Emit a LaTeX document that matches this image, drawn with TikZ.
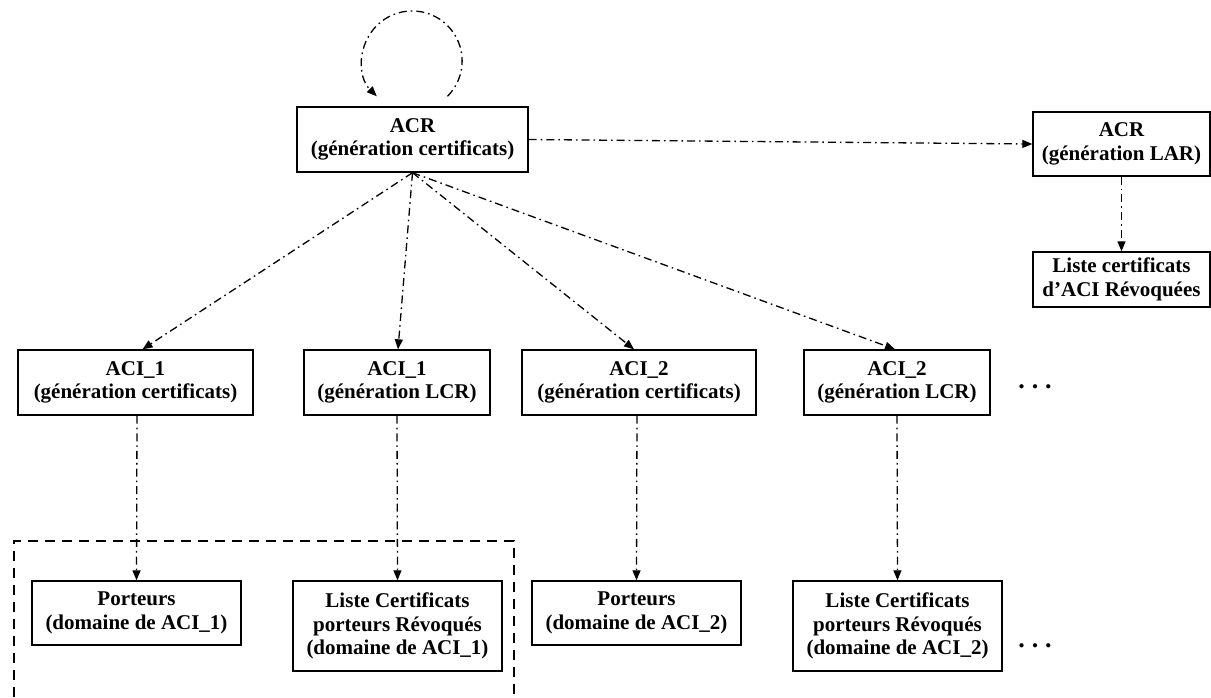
\documentclass[tikz,border=0pt]{standalone}
\usepackage{fontspec}
\setmainfont{Liberation Serif}
\usetikzlibrary{arrows.meta}
\begin{document}
\begin{tikzpicture}[x=1pt,y=-1pt,
  box/.style={draw,line width=1.4pt,inner sep=0pt,align=center,
    font=\fontsize{21}{23.5}\selectfont\bfseries},
  flow/.style={line width=1.3pt,dash pattern=on 8pt off 4pt on 1.6pt off 4pt,
    -{Triangle[length=10pt,width=8pt]}},
  group/.style={line width=2.5pt,dash pattern=on 10pt off 7pt},
  more/.style={anchor=base,inner sep=0pt,font=\fontsize{26}{26}\selectfont\bfseries}]
\useasboundingbox (0,0) rectangle (1211,697);

% root authority
\node[box,minimum width=231pt,minimum height=65pt] (acr) at (412.5,139.5)
  {ACR\\(génération certificats)};
\node[box,minimum width=177pt,minimum height=64pt] (lar) at (1121.5,144)
  {ACR\\(génération LAR)};
\node[box,minimum width=177pt,minimum height=55pt] (lacir) at (1121.5,279.5)
  {Liste certificats\\d’ACI Révoquées};

% intermediate authorities
\node[box,minimum width=235pt,minimum height=65pt] (gen1) at (135.5,382.5)
  {ACI\_1\\(génération certificats)};
\node[box,minimum width=186pt,minimum height=65pt] (lcr1) at (397,382.5)
  {ACI\_1\\(génération LCR)};
\node[box,minimum width=234pt,minimum height=65pt] (gen2) at (639,382.5)
  {ACI\_2\\(génération certificats)};
\node[box,minimum width=186pt,minimum height=65pt] (lcr2) at (897,382.5)
  {ACI\_2\\(génération LCR)};
\node[more] (more1) at (1035,388) {.\hspace{7pt}.\hspace{7pt}.};

% end entities and revocation lists
\node[box,minimum width=209pt,minimum height=64pt] (hold1) at (136.5,613)
  {Porteurs\\(domaine de ACI\_1)};
\node[box,minimum width=209pt,minimum height=90pt] (crl1) at (397.5,626)
  {Liste Certificats\\porteurs Révoqués\\(domaine de ACI\_1)};
\node[box,minimum width=209pt,minimum height=64pt] (hold2) at (636.5,613)
  {Porteurs\\(domaine de ACI\_2)};
\node[box,minimum width=209pt,minimum height=90pt] (crl2) at (897.5,626)
  {Liste Certificats\\porteurs Révoqués\\(domaine de ACI\_2)};
\node[more] (more2) at (1035,647) {.\hspace{7pt}.\hspace{7pt}.};

% domain of ACI_1
\draw[group] (14,697) -- (14,541) -- (514,541) -- (514,697);

% self-signed loop
\draw[flow] ([xshift=35pt,yshift=10pt]acr.north)
  arc[start angle=45,end angle=-225,radius=50];

% connectors
\draw[flow] (acr.east) -- (lar.west);
\draw[flow] (lar.south) -- (lacir.north);
\draw[flow] (acr.south) -- ([xshift=7pt]gen1.north);
\draw[flow] (acr.south) -- ([xshift=1pt]lcr1.north);
\draw[flow] (acr.south) -- ([xshift=-5pt]gen2.north);
\draw[flow] (acr.south) -- ([xshift=-2pt]lcr2.north);
\draw[flow] ([xshift=1.5pt]gen1.south) -- (hold1.north);
\draw[flow] (lcr1.south) -- (crl1.north);
\draw[flow] ([xshift=-2pt]gen2.south) -- (hold2.north);
\draw[flow] (lcr2.south) -- (crl2.north);
\end{tikzpicture}
\end{document}
